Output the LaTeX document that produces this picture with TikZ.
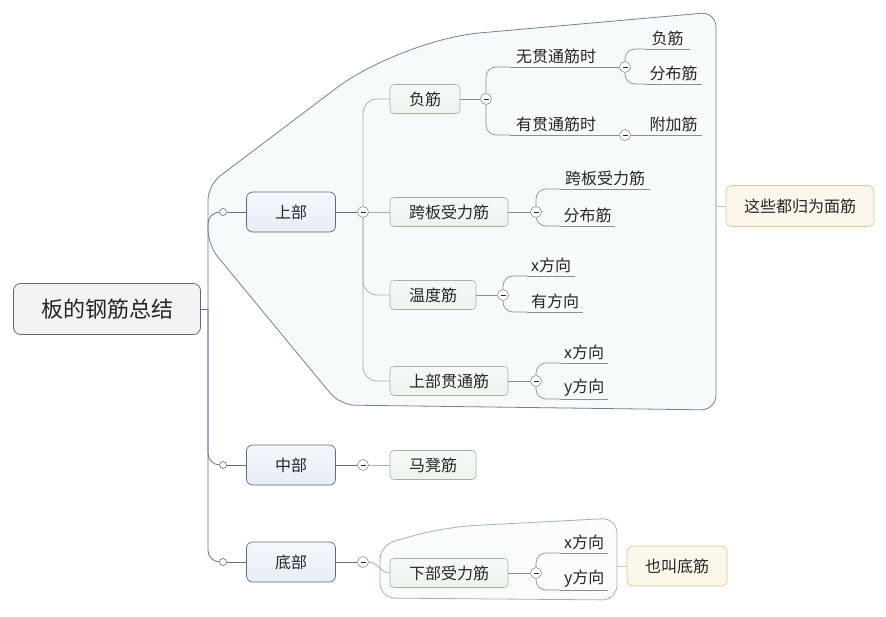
\documentclass[tikz,border=0pt]{standalone}
\usepackage{fontspec}
\setmainfont{Noto Sans CJK SC}
\usetikzlibrary{positioning, backgrounds}
\definecolor{MapTrunk}{HTML}{5E7184}
\definecolor{MapTopicFill}{HTML}{E6EDF6}
\definecolor{MapTopicDraw}{HTML}{5B6B7C}
\definecolor{MapSubFill}{HTML}{ECF4ED}
\definecolor{MapSubDraw}{HTML}{9DB8A0}
\definecolor{MapLeaf}{HTML}{8A8F94}
\definecolor{MapNoteFill}{HTML}{FBF7EA}
\definecolor{MapNoteDraw}{HTML}{D6C890}
\definecolor{MapRootFill}{HTML}{F3F3F3}
\definecolor{MapBoundFill}{HTML}{F7FAFB}
\definecolor{MapBoundDraw}{HTML}{6F8294}
\definecolor{MapText}{HTML}{262626}
\tikzset{
    % Box styles
    rootbox/.style={
        rectangle,
        rounded corners=7pt,
        draw=MapTopicDraw,
        fill=MapRootFill,
        line width=0.8pt,
        minimum width=187,
        minimum height=51,
        text=MapText,
        font=\fontsize{22}{26}\selectfont
    },
    topicbox/.style={
        rectangle,
        rounded corners=6pt,
        draw=MapTopicDraw,
        top color=MapTopicFill!40,
        bottom color=MapTopicFill,
        line width=0.7pt,
        minimum width=89,
        minimum height=40,
        text=MapText,
        font=\fontsize{16}{19}\selectfont
    },
    subbox/.style={
        rectangle,
        rounded corners=4pt,
        draw=MapSubDraw,
        top color=MapSubFill!50,
        bottom color=MapSubFill,
        line width=0.6pt,
        inner xsep=19pt,
        minimum height=29,
        text=MapText,
        font=\fontsize{16}{19}\selectfont
    },
    notebox/.style={
        rectangle,
        rounded corners=6pt,
        draw=MapNoteDraw,
        fill=MapNoteFill,
        line width=0.7pt,
        inner xsep=18pt,
        minimum height=41,
        text=MapText,
        font=\fontsize{16}{19}\selectfont
    },
    leaf/.style={
        anchor=south west,
        inner xsep=0pt,
        inner ysep=3pt,
        text=MapText,
        font=\fontsize{16}{19}\selectfont,
        append after command={(\tikzlastnode.south west) edge[leafline] (\tikzlastnode.south east)}
    },
    % Small circles on the lines
    knot/.style={
        circle,
        draw=MapTrunk,
        fill=white,
        line width=0.6pt,
        inner sep=0pt,
        minimum size=7
    },
    fold/.style={
        circle,
        draw=MapLeaf,
        fill=white,
        line width=0.6pt,
        inner sep=0pt,
        minimum size=11,
        path picture={\draw[line width=1pt, MapText] ([xshift=-2.5pt]path picture bounding box.center) -- ([xshift=2.5pt]path picture bounding box.center);}
    },
    % Line styles
    trunkline/.style={
        line width=0.8pt,
        draw=MapTrunk,
        rounded corners=12pt
    },
    subline/.style={
        line width=0.8pt,
        draw=MapSubDraw,
        rounded corners=14pt
    },
    leafline/.style={
        line width=0.7pt,
        draw=MapLeaf,
        rounded corners=10pt
    },
    boundary/.style={
        line width=0.8pt,
        draw=MapBoundDraw,
        fill=MapBoundFill,
        rounded corners=15pt
    }
}

\begin{document}
\begin{tikzpicture}[x=1pt, y=-1pt]
    \useasboundingbox (0,0) rectangle (886,616);

    % Root and main topics
    \node[rootbox] (root) at (107,309) {板的钢筋总结};
    \node[topicbox] (top1) at (291,212) {上部};
    \node[topicbox] (top2) at (291,465) {中部};
    \node[topicbox] (top3) at (291,562) {底部};
    \node[knot] (k1) at (223,212) {};
    \node[knot] (k2) at (223,465) {};
    \node[knot] (k3) at (223,562) {};

    % Sub topics
    \node[subbox] (s1) at (425,99) {负筋};
    \node[subbox] (s2) at (449,212) {跨板受力筋};
    \node[subbox] (s3) at (433,295) {温度筋};
    \node[subbox] (s4) at (449,381) {上部贯通筋};
    \node[subbox] (s5) at (433,465) {马凳筋};
    \node[subbox] (s6) at (449,573) {下部受力筋};
    \node[fold] (m1) at (363,212) {};
    \node[fold] (m2) at (363,465) {};
    \node[fold] (m3) at (363,562) {};

    % Leaves of 负筋
    \node[leaf, minimum width=92] (l11) at (510,67) {无贯通筋时};
    \node[leaf, minimum width=92] (l12) at (510,135) {有贯通筋时};
    \node[leaf, minimum width=45] (l111) at (645,49) {负筋};
    \node[leaf, minimum width=57] (l112) at (645,84) {分布筋};
    \node[leaf, minimum width=57] (l121) at (645,135) {附加筋};
    \node[fold] (m11) at (486,99) {};
    \node[fold] (m111) at (625,67) {};
    \node[fold] (m121) at (625,135) {};

    % Leaves of 跨板受力筋
    \node[leaf, minimum width=90] (l21) at (560,189) {跨板受力筋};
    \node[leaf, minimum width=55] (l22) at (560,226) {分布筋};
    \node[fold] (m21) at (536,212) {};

    % Leaves of 温度筋
    \node[leaf, minimum width=48] (l31) at (527,276) {x方向};
    \node[leaf, minimum width=56] (l32) at (527,312) {有方向};
    \node[fold] (m31) at (503,295) {};

    % Leaves of 上部贯通筋
    \node[leaf, minimum width=48] (l41) at (560,363) {x方向};
    \node[leaf, minimum width=48] (l42) at (560,399) {y方向};
    \node[fold] (m41) at (536,381) {};

    % Leaves of 下部受力筋
    \node[leaf, minimum width=48] (l61) at (560,553) {x方向};
    \node[leaf, minimum width=48] (l62) at (560,590) {y方向};
    \node[fold] (m61) at (536,573) {};

    % Notes
    \node[notebox] (note1) at (800,206) {这些都归为面筋};
    \node[notebox, minimum height=40] (note2) at (677,566) {也叫底筋};

    \begin{scope}[on background layer]
        % Summary boundaries
        \draw[boundary] (208,215) -- (208,185) [rounded corners=80pt] -- (400,40) [rounded corners=15pt] -- (716,12) -- (716,410) -- (340,405) -- (208,245) -- cycle;
        \draw[boundary, draw=MapSubDraw, fill=MapSubFill!30] (380,570) -- (380,545) [rounded corners=30pt] -- (445,527) [rounded corners=15pt] -- (617,518) -- (617,600) -- (380,598) -- cycle;
        \coordinate (bnd1) at (716,206);
        \coordinate (bnd2) at (617,566);
        \draw[line width=0.7pt, MapNoteDraw] (bnd1) -- (note1.west);
        \draw[line width=0.7pt, MapNoteDraw] (bnd2) -- (note2.west);

        % Trunk
        \draw[trunkline] (root.east) -- ++(7,0) coordinate (hub);
        \draw[trunkline] (hub) |- (k1);
        \draw[trunkline] (hub) |- (k2);
        \draw[trunkline] (hub) |- (k3);
        \draw[trunkline] (k1) -- (top1);
        \draw[trunkline] (k2) -- (top2);
        \draw[trunkline] (k3) -- (top3);

        % Main topics to sub topics
        \draw[trunkline] (top1) -- (m1);
        \draw[trunkline] (top2) -- (m2);
        \draw[trunkline] (top3) -- (m3);
        \draw[subline] (m1) -- (s2);
        \draw[subline] (m1.north) |- (s1.west);
        \draw[subline] (m1.south) |- (s3.west);
        \draw[subline] (m1.south) |- (s4.west);
        \draw[subline] (m2) -- (s5);
        \draw[subline] (m3.east) to[out=0, in=180] (s6.west);

        % Sub topics to leaves
        \draw[leafline] (s1) -- (m11);
        \draw[leafline] (m11.north) |- (l11.south west);
        \draw[leafline] (m11.south) |- (l12.south west);
        \draw[leafline] (l11.south east) -- (m111);
        \draw[leafline] (m111.north) |- (l111.south west);
        \draw[leafline] (m111.south) |- (l112.south west);
        \draw[leafline] (l12.south east) -- (m121) -- (l121.south west);
        \draw[leafline] (s2) -- (m21);
        \draw[leafline] (m21.north) |- (l21.south west);
        \draw[leafline] (m21.south) |- (l22.south west);
        \draw[leafline] (s3) -- (m31);
        \draw[leafline] (m31.north) |- (l31.south west);
        \draw[leafline] (m31.south) |- (l32.south west);
        \draw[leafline] (s4) -- (m41);
        \draw[leafline] (m41.north) |- (l41.south west);
        \draw[leafline] (m41.south) |- (l42.south west);
        \draw[leafline] (s6) -- (m61);
        \draw[leafline] (m61.north) |- (l61.south west);
        \draw[leafline] (m61.south) |- (l62.south west);
    \end{scope}
\end{tikzpicture}
\end{document}
